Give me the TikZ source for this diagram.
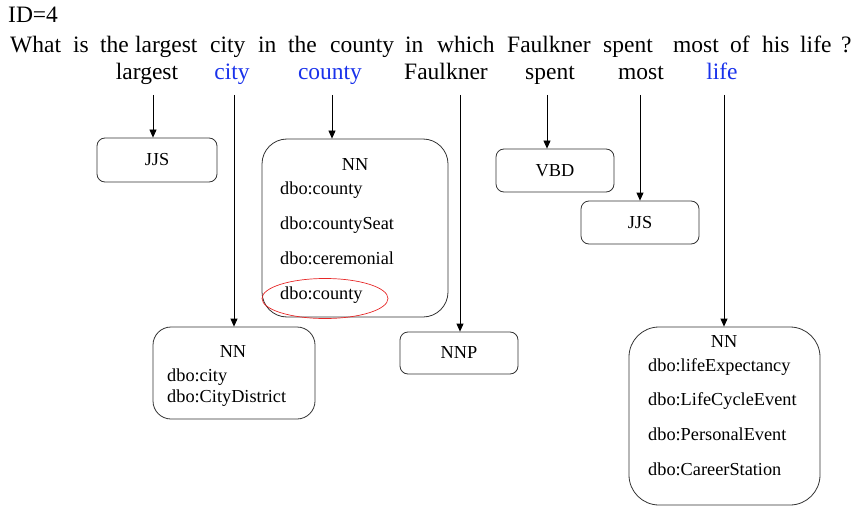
\documentclass[tikz,border=0pt]{standalone}
\usepackage{fontspec}
\setmainfont{Liberation Serif}
\usetikzlibrary{arrows.meta}
\definecolor{wordblue}{RGB}{25,50,235}
\definecolor{markred}{RGB}{230,40,40}
\begin{document}
\begin{tikzpicture}[x=1pt,y=-1pt,
  big/.style={font=\fontsize{23.5}{28}\selectfont, inner sep=0pt},
  small/.style={font=\fontsize{18.3}{22}\selectfont, inner sep=0pt},
  tagbox/.style={draw=black!80, line width=0.8pt, rounded corners=#1, inner sep=0pt},
  arr/.style={-{Triangle[width=7pt,length=8pt]}, line width=0.8pt}]
\useasboundingbox (0,0) rectangle (851,508);

% header and question
\node[big, anchor=base west] (id) at (8,23) {ID=4};
\foreach \w/\x [count=\i] in {What/10, is/73, the/100, largest/135, city/210, in/258, the/288,
    county/330, in/405, which/437, Faulkner/507, spent/603, most/673, of/730, his/762, life/800, ?/841}
  \node[big, anchor=base west] (q\i) at (\x,53) {\w};

% keyword row
\node[big, anchor=base] (wLargest) at (147,80) {largest};
\node[big, anchor=base, text=wordblue] (wCity) at (232,80) {city};
\node[big, anchor=base, text=wordblue] (wCounty) at (330,80) {county};
\node[big, anchor=base] (wFaulkner) at (446,80) {Faulkner};
\node[big, anchor=base] (wSpent) at (550,80) {spent};
\node[big, anchor=base] (wMost) at (641,80) {most};
\node[big, anchor=base, text=wordblue] (wLife) at (722,80) {life};

% tag boxes
\node[tagbox=8pt, small, minimum width=120pt, minimum height=44pt] (tJJSa) at (157,160) {JJS};
\node[tagbox=25pt, minimum width=186pt, minimum height=178pt] (tCounty) at (355,228) {};
\node[tagbox=8pt, small, minimum width=118pt, minimum height=43pt] (tVBD) at (555,170.5) {VBD};
\node[tagbox=8pt, small, minimum width=118pt, minimum height=43pt] (tJJSb) at (640,222.5) {JJS};
\node[tagbox=18pt, minimum width=162pt, minimum height=92pt] (tCity) at (234,373) {};
\node[tagbox=8pt, small, minimum width=118pt, minimum height=42pt] (tNNP) at (459,353) {NNP};
\node[tagbox=30pt, minimum width=191pt, minimum height=178pt] (tLife) at (724.5,416) {};

% box contents
\node[small] (cNN) at (355,165) {NN};
\node[small, anchor=base west] (c1) at (280,194) {dbo:county};
\node[small, anchor=base west] (c2) at (280,229) {dbo:countySeat};
\node[small, anchor=base west] (c3) at (280,264) {dbo:ceremonial};
\node[small, anchor=base west] (c4) at (280,299) {dbo:county};
\draw[markred, line width=0.7pt] (325,298.5) ellipse [x radius=63pt, y radius=20pt];

\node[small, anchor=base] (yNN) at (233,357) {NN};
\node[small, anchor=base west] (y1) at (167,381.5) {dbo:city};
\node[small, anchor=base west] (y2) at (167,402) {dbo:CityDistrict};

\node[small, anchor=base] (lNN) at (724,347.5) {NN};
\node[small, anchor=base west] (l1) at (648,371.5) {dbo:lifeExpectancy};
\node[small, anchor=base west] (l2) at (648,405) {dbo:LifeCycleEvent};
\node[small, anchor=base west] (l3) at (648,440) {dbo:PersonalEvent};
\node[small, anchor=base west] (l4) at (648,475) {dbo:CareerStation};

% connectors
\coordinate (sLargest) at (153,95);
\coordinate (sCity) at (234,95);
\coordinate (sCounty) at (332,95);
\coordinate (sFaulkner) at (460,95);
\coordinate (sSpent) at (547,95);
\coordinate (sMost) at (640,95);
\coordinate (sLife) at (724,95);
\draw[arr] (sLargest) -- (sLargest |- tJJSa.north);
\draw[arr] (sCity) -- (sCity |- tCity.north);
\draw[arr] (sCounty) -- (sCounty |- tCounty.north);
\draw[arr] (sFaulkner) -- (sFaulkner |- tNNP.north);
\draw[arr] (sSpent) -- (sSpent |- tVBD.north);
\draw[arr] (sMost) -- (sMost |- tJJSb.north);
\draw[arr] (sLife) -- (sLife |- tLife.north);
\end{tikzpicture}
\end{document}
